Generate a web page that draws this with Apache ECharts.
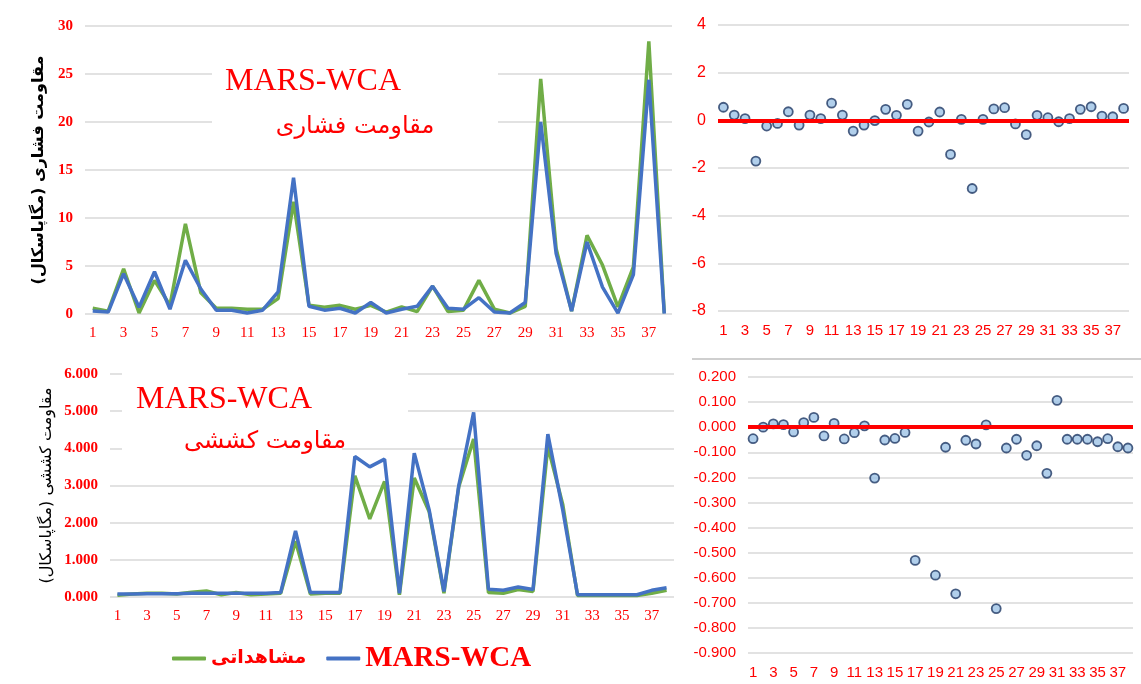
<!DOCTYPE html>
<html lang="fa">
<head>
    <meta charset="UTF-8">
    <title>MARS-WCA</title>
    <style type="text/css">
        *{
            margin: 0px;
            padding: 0px;
        }
        body{
            background-color: #fff;
        }
        #main{
            width: 1141px;
            height: 684px;
        }
    </style>
</head>
<body>
<div id="main"></div>

<script src="https://cdn.jsdelivr.net/npm/echarts@6/dist/echarts.min.js"></script>
<script type="text/javascript">
    // شماره نمونه ها
    var samples = ['1','2','3','4','5','6','7','8','9','10','11','12','13','14','15','16','17','18','19',
        '20','21','22','23','24','25','26','27','28','29','30','31','32','33','34','35','36','37','38'];

    // مقاومت فشاری
    var compObserved = [0.6,0.3,4.7,0.1,3.5,0.9,9.4,2.2,0.6,0.6,0.5,0.5,1.6,11.7,0.9,0.7,0.9,0.5,0.9,0.2,
        0.75,0.25,2.9,0.25,0.4,3.5,0.5,0.1,0.8,24.5,6.8,0.3,8.2,5.1,0.75,4.9,28.4,0.1];
    var compPredicted = [0.3,0.2,4.2,0.7,4.4,0.5,5.6,2.6,0.4,0.4,0.1,0.4,2.3,14.2,0.8,0.4,0.6,0.1,1.2,0.1,
        0.5,0.8,2.9,0.6,0.5,1.7,0.2,0.1,1.2,20.0,6.3,0.3,7.5,2.8,0.1,4.1,24.4,0.05];
    var compResidual = [0.55,0.22,0.07,-1.71,-0.24,-0.13,0.36,-0.2,0.22,0.07,0.72,0.22,-0.45,-0.2,-0.01,0.46,
        0.21,0.67,-0.45,-0.07,0.35,-1.43,0.04,-2.86,0.04,0.48,0.53,-0.15,-0.6,0.21,0.11,-0.06,0.07,0.46,
        0.57,0.18,0.15,0.5];

    // مقاومت کششی
    var tensObserved = [0.05,0.08,0.1,0.1,0.08,0.13,0.16,0.06,0.12,0.06,0.08,0.1,1.5,0.08,0.1,0.1,3.26,2.1,
        3.11,0.06,3.2,2.3,0.1,2.97,4.25,0.12,0.1,0.2,0.15,4.05,2.5,0.04,0.04,0.04,0.04,0.04,0.1,0.18];
    var tensPredicted = [0.08,0.08,0.09,0.09,0.09,0.1,0.1,0.1,0.1,0.1,0.1,0.12,1.78,0.12,0.12,0.12,3.78,3.5,
        3.71,0.1,3.87,2.35,0.15,3.0,4.97,0.21,0.18,0.27,0.2,4.38,2.35,0.06,0.06,0.06,0.06,0.06,0.18,0.25];
    var tensResidual = [-0.046,0.0,0.013,0.01,-0.019,0.018,0.039,-0.035,0.015,-0.047,-0.022,0.005,-0.203,
        -0.051,-0.045,-0.021,-0.531,null,-0.59,-0.08,-0.664,-0.052,-0.067,0.009,-0.723,-0.083,-0.048,-0.112,
        -0.074,-0.184,0.107,-0.048,-0.048,-0.048,-0.058,-0.046,-0.078,-0.083];

    var seriesNames = ['مشاهداتی', 'MARS-WCA'];

    var red = '#ff0000';
    var gridColor = '#d9d9d9';
    var serif = "'Liberation Serif', 'DejaVu Sans', serif";
    var sans = "'Liberation Sans', 'DejaVu Sans', sans-serif";
    var persian = "'DejaVu Sans', sans-serif";

    var myChart = echarts.init(document.getElementById('main'));

    function catAxis(gridIndex, font, size){
        return {
            type: 'category',
            gridIndex: gridIndex,
            data: samples,
            boundaryGap: true,
            axisLine: {show: false},
            axisTick: {show: false},
            axisLabel: {
                interval: 1,
                color: red,
                fontFamily: font,
                fontSize: size,
                margin: 12
            }
        }
    }

    function valAxis(gridIndex, min, max, step, font, bold, size, digits){
        return {
            type: 'value',
            gridIndex: gridIndex,
            min: min,
            max: max,
            interval: step,
            axisLine: {show: false},
            axisTick: {show: false},
            splitLine: {lineStyle: {color: gridColor, width: 1.5}},
            axisLabel: {
                color: red,
                fontFamily: font,
                fontWeight: bold ? 'bold' : 'normal',
                fontSize: size,
                margin: 12,
                formatter: function (v) {
                    return digits ? v.toFixed(digits) : String(Math.round(v));
                }
            }
        }
    }

    function lineSeries(name, color, data, idx){
        return {
            name: name,
            type: 'line',
            xAxisIndex: idx,
            yAxisIndex: idx,
            data: data,
            showSymbol: false,
            smooth: false,
            color: color,
            lineStyle: {color: color, width: 3.5}
        }
    }

    function residualSeries(data, idx){
        return {
            name: 'residual' + idx,
            type: 'scatter',
            xAxisIndex: idx,
            yAxisIndex: idx,
            data: data,
            symbol: 'circle',
            symbolSize: 9,
            itemStyle: {
                color: '#9dc3e6',
                borderColor: '#1f3864',
                borderWidth: 1.8
            },
            markLine: {
                silent: true,
                symbol: ['none', 'none'],
                label: {show: false},
                lineStyle: {color: red, width: 4, type: 'solid'},
                data: [{yAxis: 0}]
            },
            z: 3
        }
    }

    var yAxes = [
        valAxis(0, 0, 30, 5, serif, true, 15, 0),
        valAxis(1, -8, 4, 2, sans, false, 16, 0),
        valAxis(2, 0, 6, 1, serif, true, 15, 3),
        valAxis(3, -0.9, 0.2, 0.1, sans, false, 15, 3)
    ];
    yAxes[0].name = 'مقاومت فشاری (مگاپاسکال)';
    yAxes[0].nameLocation = 'middle';
    yAxes[0].nameGap = 36;
    yAxes[0].nameTextStyle = {color: '#000', fontFamily: persian, fontWeight: 'bold', fontSize: 16};
    yAxes[2].name = 'مقاومت کششی (مگاپاسکال)';
    yAxes[2].nameLocation = 'middle';
    yAxes[2].nameGap = 55;
    yAxes[2].nameTextStyle = {color: '#000', fontFamily: persian, fontSize: 16};

    var option = {
        backgroundColor: '#fff',
        animation: false,
        grid: [
            {left: 85, top: 26, width: 587, height: 288},
            {left: 718, top: 25, width: 411, height: 286},
            {left: 110, top: 374, width: 564, height: 223},
            {left: 748, top: 377, width: 385, height: 276}
        ],
        xAxis: [
            catAxis(0, serif, 15),
            catAxis(1, sans, 15),
            catAxis(2, serif, 15),
            catAxis(3, sans, 15)
        ],
        yAxis: yAxes,
        legend: {
            data: seriesNames,
            left: 167,
            top: 639,
            icon: 'roundRect',
            itemWidth: 34,
            itemHeight: 4,
            itemGap: 20,
            formatter: function (name) {
                return name === 'MARS-WCA' ? '{en|' + name + '}' : '{fa|' + name + '}';
            },
            textStyle: {
                color: red,
                rich: {
                    en: {color: red, fontFamily: serif, fontWeight: 'bold', fontSize: 29},
                    fa: {color: red, fontFamily: persian, fontWeight: 'bold', fontSize: 19}
                }
            }
        },
        graphic: [
            // کادرهای سفید زیر عنوان ها
            {type: 'rect', z: 50, shape: {x: 212, y: 55, width: 286, height: 90}, style: {fill: '#fff'}},
            {type: 'rect', z: 50, shape: {x: 122, y: 365, width: 286, height: 56}, style: {fill: '#fff'}},
            {type: 'rect', z: 50, shape: {x: 122, y: 421, width: 220, height: 40}, style: {fill: '#fff'}},
            {type: 'text', z: 51, x: 313, y: 82, style: {text: 'MARS-WCA', fill: red, fontFamily: serif,
                fontSize: 32, textAlign: 'center', textVerticalAlign: 'middle'}},
            {type: 'text', z: 51, x: 355, y: 127, style: {text: 'مقاومت فشاری', fill: red, fontFamily: persian,
                fontSize: 24, textAlign: 'center', textVerticalAlign: 'middle'}},
            {type: 'text', z: 51, x: 224, y: 400, style: {text: 'MARS-WCA', fill: red, fontFamily: serif,
                fontSize: 32, textAlign: 'center', textVerticalAlign: 'middle'}},
            {type: 'text', z: 51, x: 265, y: 442, style: {text: 'مقاومت کششی', fill: red, fontFamily: persian,
                fontSize: 24, textAlign: 'center', textVerticalAlign: 'middle'}},
            // خط بالای کادر پایین راست
            {type: 'line', z: 50, shape: {x1: 692, y1: 359, x2: 1141, y2: 359},
                style: {stroke: '#bfbfbf', lineWidth: 1.5}}
        ],
        series: [
            lineSeries(seriesNames[0], '#70ad47', compObserved, 0),
            lineSeries(seriesNames[1], '#4472c4', compPredicted, 0),
            residualSeries(compResidual, 1),
            lineSeries(seriesNames[0], '#70ad47', tensObserved, 2),
            lineSeries(seriesNames[1], '#4472c4', tensPredicted, 2),
            residualSeries(tensResidual, 3)
        ]
    };

    myChart.setOption(option);
</script>
</body>
</html>
